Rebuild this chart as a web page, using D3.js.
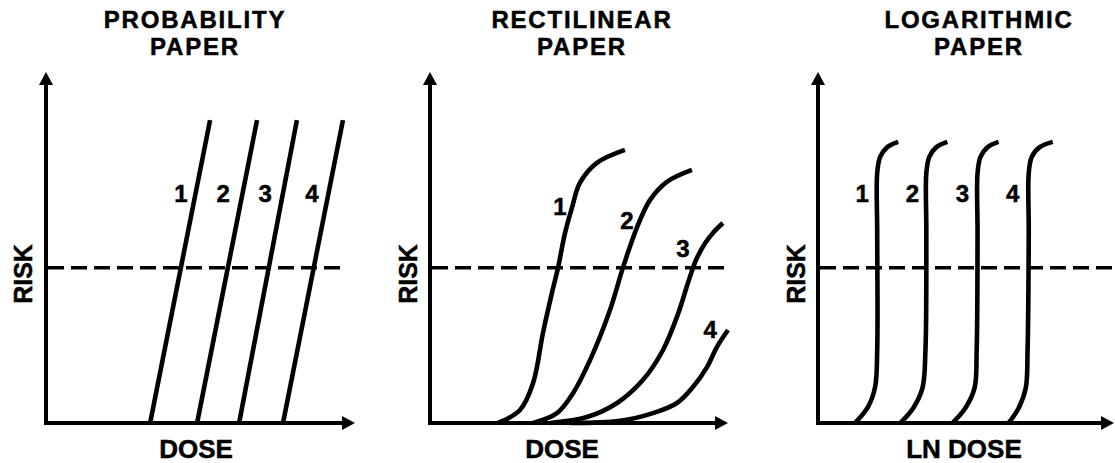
<!DOCTYPE html>
<html>
<head>
<meta charset="utf-8">
<script src="https://cdn.jsdelivr.net/npm/d3@7"></script>
<style>
  html, body { margin: 0; padding: 0; background: #fff; }
  svg text { font-family: 'Liberation Sans', Arial, sans-serif; font-weight: bold; fill: #000; stroke: #000; stroke-width: 0.5px; }
</style>
</head>
<body>
<div id="viz"></div>
<script>
  // chart values (dose / risk on a 0-100 scale for each paper)
  let titles = [['PROBABILITY', 'PAPER'], ['RECTILINEAR', 'PAPER'], ['LOGARITHMIC', 'PAPER']];
  let xLabels = ['DOSE', 'DOSE', 'LN DOSE'];
  let yLabel = 'RISK';
  let curveNames = ['1', '2', '3', '4'];
  let threshold = 44.2;

  let probabilityLines = [
    [[33.7, 0], [53.1, 86.3]],
    [[48.9, 0], [68.3, 86.3]],
    [[62.5, 0], [81.2, 86.3]],
    [[76.7, 0], [96.1, 86.3]]
  ];
  let probabilityLabels = [[43.7, 63.0], [57.3, 63.0], [70.9, 63.0], [86.1, 63.0]];

  let rectilinearCurves = [
    [[22.8, 0], [30.2, 3.7], [34.6, 11.4], [37.9, 25.6], [40.9, 37.0], [43.0, 44.4],
     [45.3, 54.1], [47.7, 61.5], [50.3, 68.4], [56.0, 74.1], [65.4, 77.8]],
    [[34.6, 0], [42.6, 2.8], [48.0, 8.5], [53.7, 17.9], [60.4, 32.2], [64.8, 44.4],
     [69.5, 55.8], [73.8, 63.5], [79.5, 68.7], [87.9, 72.1]],
    [[40.3, 0], [52.7, 1.7], [62.8, 5.7], [71.5, 12.3], [78.2, 20.8], [83.2, 31.0],
     [86.6, 40.0], [89.2, 46.3], [92.3, 51.2], [95.3, 54.5], [98.3, 57.0]],
    [[47.0, 0], [63.8, 0.6], [74.8, 2.8], [82.9, 5.7], [88.3, 10.3], [93.0, 16.0],
     [96.3, 21.7], [100, 26.5]]
  ];
  let rectilinearLabels = [[43.6, 59.3], [66.1, 55.4], [84.9, 47.4], [94.0, 24.1]];

  let logCurves = [
    [[12.5, 0], [16.9, 4.6], [19.3, 10.3], [20.0, 20.8], [20.0, 54.1], [20.0, 71.2],
     [21.0, 75.8], [23.4, 78.6], [27.1, 80.1]],
    [[27.8, 0], [32.2, 4.3], [35.3, 10.0], [36.3, 20.8], [36.6, 54.1], [36.6, 71.2],
     [37.6, 75.8], [40.0, 78.6], [43.7, 80.1]],
    [[45.4, 0], [49.8, 4.3], [52.9, 10.0], [53.6, 20.8], [53.9, 54.1], [53.9, 71.2],
     [54.9, 75.8], [57.3, 78.6], [61.0, 80.1]],
    [[64.4, 0], [67.8, 4.3], [70.2, 10.0], [70.8, 20.8], [71.2, 54.1], [71.2, 71.2],
     [72.2, 75.8], [74.9, 78.6], [79.3, 80.1]]
  ];
  let logLabels = [[14.9, 63.1], [31.9, 63.1], [48.8, 63.1], [65.8, 63.1]];

  let width = 1115, height = 463;
  let plotTop = 72, plotBottom = 423;

  let svg = d3.select('#viz')
    .append('svg')
    .attr('width', width)
    .attr('height', height);

  let panels = [
    { left: 46, right: 355, titleX: 195, riskX: 32, doseX: 196, dashEnd: 96.1,
      curves: probabilityLines, labels: probabilityLabels, curve: d3.curveLinear },
    { left: 430, right: 728, titleX: 582, riskX: 417, doseX: 562, dashEnd: 99.5,
      curves: rectilinearCurves, labels: rectilinearLabels, curve: d3.curveCatmullRom.alpha(0.5) },
    { left: 818, right: 1114, titleX: 979, riskX: 805, doseX: 964, dashEnd: 100,
      curves: logCurves, labels: logLabels, curve: d3.curveCatmullRom.alpha(0.5) }
  ];

  panels.forEach((p, i) => {
    let x = d3.scaleLinear().domain([0, 100]).range([p.left, p.right]);
    let y = d3.scaleLinear().domain([0, 100]).range([plotBottom, plotTop]);
    let g = svg.append('g');

    // titles
    g.selectAll('.title')
      .data(titles[i])
      .join('text')
      .attr('class', 'title')
      .attr('x', p.titleX)
      .attr('y', (d, k) => 28 + k * 27)
      .attr('text-anchor', 'middle')
      .style('font-size', '24px')
      .style('letter-spacing', '1.8px')
      .text(d => d);

    // axes with arrow heads
    let head = 12;
    g.append('line')
      .attr('x1', x(0)).attr('y1', y(0) + 2)
      .attr('x2', x(0)).attr('y2', y(100) + head - 2)
      .attr('stroke', '#000').attr('stroke-width', 4);
    g.append('line')
      .attr('x1', x(0) - 2).attr('y1', y(0))
      .attr('x2', x(100) - head + 2).attr('y2', y(0))
      .attr('stroke', '#000').attr('stroke-width', 4);
    g.append('path')
      .attr('d', `M${x(0)},${y(100)}L${x(0) + 7},${y(100) + head + 1}L${x(0) - 7},${y(100) + head + 1}Z`)
      .attr('fill', '#000');
    g.append('path')
      .attr('d', `M${x(100)},${y(0)}L${x(100) - head - 1},${y(0) - 7}L${x(100) - head - 1},${y(0) + 7}Z`)
      .attr('fill', '#000');

    // dashed threshold
    g.append('line')
      .attr('x1', x(0) + 2).attr('x2', x(p.dashEnd))
      .attr('y1', y(threshold)).attr('y2', y(threshold))
      .attr('stroke', '#000')
      .attr('stroke-width', 3.5)
      .attr('stroke-dasharray', '16,7');

    // dose-response curves
    let line = d3.line()
      .x(d => x(d[0]))
      .y(d => y(d[1]))
      .curve(p.curve);

    g.selectAll('.curve')
      .data(p.curves)
      .join('path')
      .attr('class', 'curve')
      .attr('d', line)
      .attr('fill', 'none')
      .attr('stroke', '#000')
      .attr('stroke-width', 4.6)
      .attr('stroke-linecap', 'butt');

    g.selectAll('.num')
      .data(p.labels)
      .join('text')
      .attr('class', 'num')
      .attr('x', d => x(d[0]))
      .attr('y', d => y(d[1]))
      .attr('text-anchor', 'middle')
      .style('font-size', '24px')
      .text((d, k) => curveNames[k]);

    // axis labels
    g.append('text')
      .attr('transform', `translate(${p.riskX}, 274) rotate(-90)`)
      .attr('text-anchor', 'middle')
      .style('font-size', '25px')
      .text(yLabel);

    g.append('text')
      .attr('x', p.doseX)
      .attr('y', 458)
      .attr('text-anchor', 'middle')
      .style('font-size', '26px')
      .text(xLabels[i]);
  });
</script>
</body>
</html>
